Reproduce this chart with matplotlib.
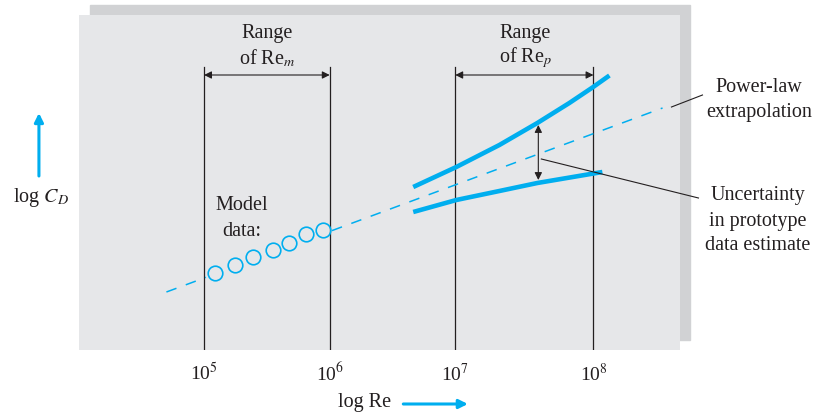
import numpy as np
import matplotlib.pyplot as plt
from matplotlib.patches import Rectangle

plt.rcParams['font.family'] = ['Liberation Serif', 'DejaVu Serif']
plt.rcParams['mathtext.fontset'] = 'stix'

# -- data (x: log10 Re, y: log C_D in arbitrary units) --
model_logre = [5.085, 5.243, 5.390, 5.552, 5.677, 5.809, 5.948]
model_logcd = [0.767, 0.850, 0.933, 1.000, 1.073, 1.157, 1.200]

# power-law fit end points; the line is broken where the model data sit
fit_logre = [4.70, 8.65]
fit_logcd = [0.58, 2.42]

upper_logre = [6.665, 7.008, 7.351, 7.653, 7.908, 8.092, 8.227]
upper_logcd = [1.63, 1.83, 2.05, 2.27, 2.47, 2.625, 2.745]
lower_logre = [6.665, 7.008, 7.351, 7.653, 8.171]
lower_logcd = [1.38, 1.50, 1.59, 1.67, 1.78]

range_lines = [5.0, 6.0, 7.0, 8.1]
tick_labels = ['10$^5$', '10$^6$', '10$^7$', '10$^8$']

CYAN = '#00aeef'
INK = '#231f20'
PANEL = '#e6e7e9'
SHADOW = '#d1d2d4'

fig = plt.figure(figsize=(8.24, 4.16), dpi=100)

# drop shadow behind the panel
fig.patches.append(Rectangle((90 / 824, 1 - 340 / 416), 600 / 824, 335 / 416,
                             transform=fig.transFigure, color=SHADOW, zorder=-1))

ax = fig.add_axes([79 / 824, 1 - 350 / 416, 601 / 824, 335 / 416])
ax.set_zorder(1)
ax.set_facecolor(PANEL)
ax.set_xlim(4.004, 8.789)
ax.set_ylim(0, 3.35)
for s in ax.spines.values():
    s.set_visible(False)
ax.set_yticks([])
ax.set_xticks(range_lines)
ax.set_xticklabels(tick_labels, fontsize=14, color=INK)
ax.tick_params(axis='x', length=0, pad=9)

# vertical range lines
for xv in range_lines:
    ax.plot([xv, xv], [0, 2.83], color=INK, lw=0.9, zorder=2)

# range arrows + labels
arr = dict(arrowstyle='<|-|>', color=INK, lw=0.8, mutation_scale=11, shrinkA=0, shrinkB=0)
ax.annotate('', xy=(range_lines[0], 2.75), xytext=(range_lines[1], 2.75), arrowprops=arr)
ax.annotate('', xy=(range_lines[2], 2.75), xytext=(range_lines[3], 2.75), arrowprops=arr)
fs = 14.5
ax.text(5.50, 3.17, 'Range', ha='center', va='center', fontsize=fs, color=INK)
ax.text(5.50, 2.92, 'of Re$_m$', ha='center', va='center', fontsize=fs, color=INK)
ax.text(7.558, 3.17, 'Range', ha='center', va='center', fontsize=fs, color=INK)
ax.text(7.558, 2.92, 'of Re$_p$', ha='center', va='center', fontsize=fs, color=INK)

# power-law fit (two pieces, gap over the model data) and model points
gap = 0.07
seg1 = [fit_logre[0], model_logre[0] - gap]
seg2 = [model_logre[-1] + gap, fit_logre[1]]
for seg in (seg1, seg2):
    ax.plot(seg, np.interp(seg, fit_logre, fit_logcd), color=CYAN, lw=1.1,
            ls=(0, (7, 6.5)), zorder=3)
ax.plot(model_logre, model_logcd, 'o', ms=10.5, mfc='none', mec=CYAN, mew=1.2, zorder=4)
ax.text(5.303, 1.45, 'Model', ha='center', va='center', fontsize=fs, color=INK)
ax.text(5.303, 1.19, 'data:', ha='center', va='center', fontsize=fs, color=INK)

# prototype uncertainty band
ax.plot(upper_logre, upper_logcd, color=CYAN, lw=3.3, solid_capstyle='butt',
        solid_joinstyle='round', zorder=3)
ax.plot(lower_logre, lower_logcd, color=CYAN, lw=3.3, solid_capstyle='butt',
        solid_joinstyle='round', zorder=3)
ax.annotate('', xy=(7.661, 2.25), xytext=(7.661, 1.70),
            arrowprops=dict(arrowstyle='<|-|>', color=INK, lw=0.8, mutation_scale=11,
                            shrinkA=0, shrinkB=0))

# leaders and side labels
ax.plot([8.721, 8.968], [2.43, 2.55], color=INK, lw=0.8, clip_on=False)
ax.plot([7.685, 8.936], [1.91, 1.52], color=INK, lw=0.8, clip_on=False, zorder=5)
ax.text(9.42, 2.62, 'Power-law', ha='center', va='center', fontsize=fs, color=INK)
ax.text(9.42, 2.38, 'extrapolation', ha='center', va='center', fontsize=fs, color=INK)
ax.text(9.41, 1.55, 'Uncertainty', ha='center', va='center', fontsize=fs, color=INK)
ax.text(9.41, 1.29, 'in prototype', ha='center', va='center', fontsize=fs, color=INK)
ax.text(9.41, 1.04, 'data estimate', ha='center', va='center', fontsize=fs, color=INK)

# axis labels with arrows
ax.text(3.70, 1.53, 'log $C_D$', ha='center', va='center', fontsize=fs, color=INK)
ax.annotate('', xy=(3.685, 2.37), xytext=(3.685, 1.74), annotation_clip=False,
            arrowprops=dict(arrowstyle='-|>', color=CYAN, lw=2.2, mutation_scale=13,
                            shrinkA=0, shrinkB=0))
ax.text(6.28, -0.53, 'log Re', ha='center', va='center', fontsize=fs, color=INK)
ax.annotate('', xy=(7.10, -0.54), xytext=(6.586, -0.54), annotation_clip=False,
            arrowprops=dict(arrowstyle='-|>', color=CYAN, lw=2.2, mutation_scale=13,
                            shrinkA=0, shrinkB=0))

fig.savefig('out.png', dpi=100)
